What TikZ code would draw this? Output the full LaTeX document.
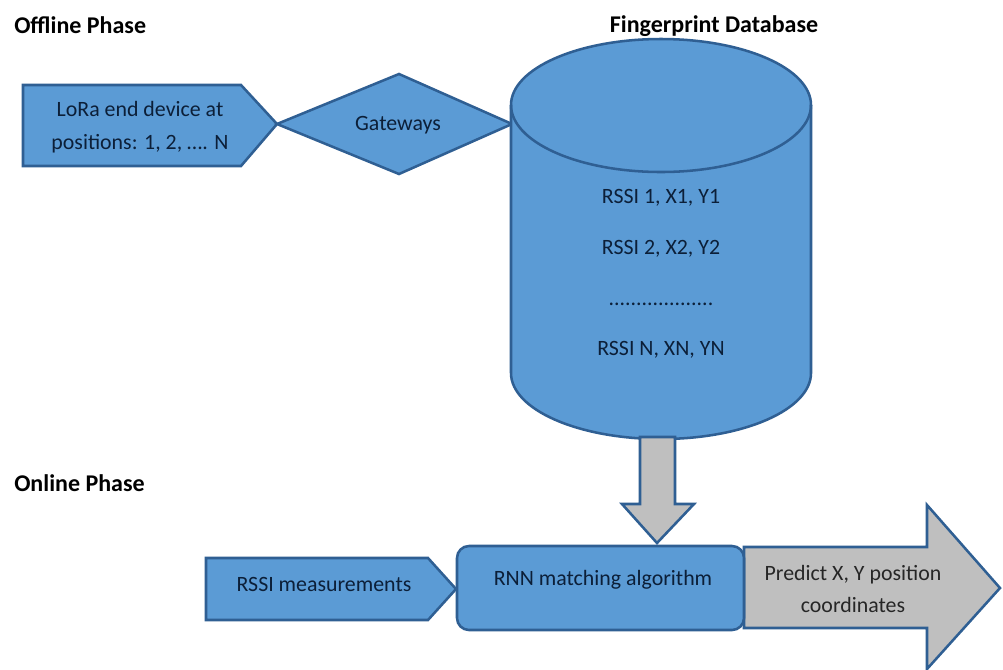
\documentclass[tikz,border=0pt]{standalone}
\usepackage{fontspec}
\setmainfont{Carlito}
\definecolor{fillblue}{HTML}{5B9BD5}
\definecolor{edgeblue}{HTML}{2F5F93}
\definecolor{fillgrey}{HTML}{BFBFBF}
\definecolor{inkblue}{HTML}{0C1F38}
\begin{document}
\begin{tikzpicture}[x=0.75pt,y=-0.75pt,
  shapeblue/.style={fill=fillblue,draw=edgeblue,line width=1.9pt,line join=miter},
  shapegrey/.style={fill=fillgrey,draw=edgeblue,line width=1.9pt,line join=miter},
  lab/.style={text=inkblue,font=\fontsize{16.4}{24.7}\selectfont,align=center,inner sep=0pt},
  head/.style={text=black,font=\fontsize{18}{21}\selectfont\bfseries,inner sep=0pt}]
\useasboundingbox (0,0) rectangle (1003,669);
\fill[white] (0,0) rectangle (1003,669);
% Offline phase
\draw[shapeblue] (23,85) -- (241,85) -- (277,124) -- (241,166) -- (23,166) -- cycle;
\draw[shapeblue] (277,124) -- (399,74) -- (512,124) -- (399,174) -- cycle;
% cylinder
\draw[shapeblue] (511,105) arc[start angle=180,end angle=0,x radius=150,y radius=-66]
  -- (811,373) arc[start angle=0,end angle=-180,x radius=150,y radius=-66] -- cycle;
\draw[edgeblue,line width=1.9pt] (511,105) arc[start angle=180,end angle=360,x radius=150,y radius=-67];
% arrows
\draw[shapegrey] (744,547) -- (927,547) -- (927,505) -- (1000,588) -- (927,669) -- (927,628) -- (744,628) -- cycle;
\draw[shapegrey] (640,437) -- (675,437) -- (675,504) -- (694,504) -- (657,543) -- (622,504) -- (640,504) -- cycle;
% online
\draw[shapeblue] (206,558) -- (428,558) -- (456,589) -- (428,620) -- (206,620) -- cycle;
\draw[shapeblue,rounded corners=9pt] (457,546) rectangle (744,630);
% texts
\node[head,anchor=west] (offline) at (14,25) {Offline Phase};
\node[head] (fingerprint) at (714,26.5) {Fingerprint Database};
\node[head,anchor=west] (online) at (14,483) {Online Phase};
\node[lab] (lora) at (140,127) {LoRa end device at\\positions: 1, 2, \dots. N};
\node[lab] (gw) at (398,125) {Gateways};
\node[lab] (r1) at (661,198) {RSSI 1, X1, Y1};
\node[lab] (r2) at (661,249) {RSSI 2, X2, Y2};
\node[lab,anchor=base] (rd) at (661,305) {...................};
\node[lab] (r3) at (661,350) {RSSI N, XN, YN};
\node[lab] (meas) at (324,584) {RSSI measurements};
\node[lab] (rnn) at (603,580) {RNN matching algorithm};
\node[lab,text=black!85] (pred) at (853,589) {Predict X, Y position\\coordinates};
\end{tikzpicture}
\end{document}
